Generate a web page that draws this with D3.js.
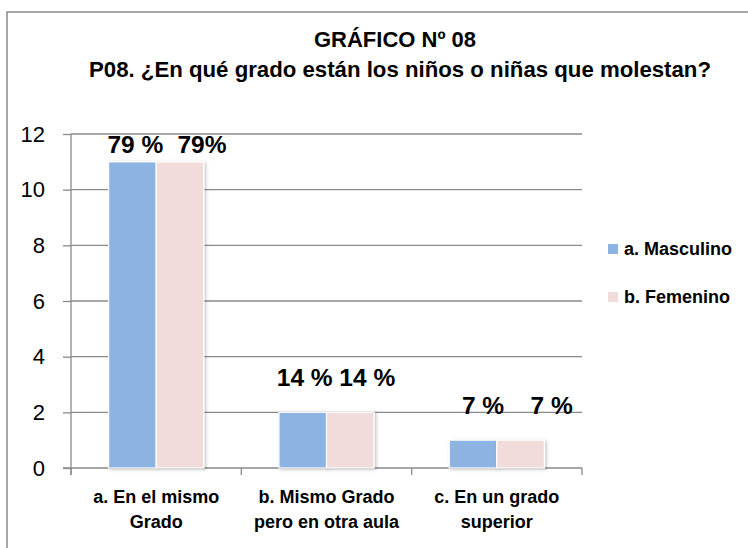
<!DOCTYPE html>
<html>
<head>
<meta charset="utf-8">
<script src="https://cdn.jsdelivr.net/npm/d3@7"></script>
<style>
  body { margin: 0; background: #fff; }
  svg { display: block; font-family: "Liberation Sans", Arial, sans-serif; }
</style>
</head>
<body>
<script>
const categories = [["a. En el mismo", "Grado"], ["b. Mismo Grado", "pero en otra aula"], ["c. En un grado", "superior"]];
const series = ["a. Masculino", "b. Femenino"];
const masculino = [11, 2, 1];
const femenino = [11, 2, 1];
const masculinoLabels = ["79 %", "14 %", "7 %"];
const femeninoLabels = ["79%", "14 %", "7 %"];
const yTicks = [0, 2, 4, 6, 8, 10, 12];

const colors = ["#8DB3E2", "#F2DCDB"];
// hand placed data labels in the original, dx / dy from bar top centre
const labelNudge = [
  [[3, -9], [22, -9]],
  [[2, -26], [17, -26]],
  [[10, -26], [31, -26]]
];

const W = 748, H = 548;
const svg = d3.select("body").append("svg").attr("width", W).attr("height", H);

const defs = svg.append("defs");
const f = defs.append("filter").attr("id", "shadow").attr("x", "-20%").attr("y", "-20%").attr("width", "140%").attr("height", "140%");
f.append("feDropShadow").attr("dx", 1.5).attr("dy", 1).attr("stdDeviation", 1.5)
  .attr("flood-color", "#000").attr("flood-opacity", 0.25);

// outer frame (right and bottom run off the picture)
svg.append("rect").attr("x", 7).attr("y", 12).attr("width", 800).attr("height", 600)
  .attr("fill", "none").attr("stroke", "#8a8a8a").attr("stroke-width", 1.5);

// title
svg.append("text").attr("x", 395).attr("y", 47).attr("text-anchor", "middle")
  .attr("font-size", 22).attr("font-weight", "bold").text("GRÁFICO Nº 08");
svg.append("text").attr("x", 400).attr("y", 77).attr("text-anchor", "middle")
  .attr("font-size", 22).attr("font-weight", "bold")
  .attr("textLength", 622).attr("lengthAdjust", "spacingAndGlyphs")
  .text("P08. ¿En qué grado están los niños o niñas que molestan?");

const x0 = d3.scaleBand().domain(d3.range(categories.length)).range([71, 582]);
const x1 = d3.scaleBand().domain(d3.range(series.length)).range([0, x0.bandwidth()]).paddingOuter(0.79);
const y = d3.scaleLinear().domain([0, 12]).range([468, 134]);

// gridlines
svg.append("g").selectAll("line").data(yTicks.filter(d => d > 0)).join("line")
  .attr("x1", 71).attr("x2", 582).attr("y1", d => y(d)).attr("y2", d => y(d))
  .attr("stroke", "#8a8a8a").attr("stroke-width", 1.3);

// y axis
const yAxis = svg.append("g").attr("transform", "translate(71,0)")
  .call(d3.axisLeft(y).tickValues(yTicks).tickSize(8).tickPadding(18));
yAxis.select(".domain").attr("d", `M0,${y(12)}V${y(0) + 7}`);
yAxis.selectAll("path,line").attr("stroke", "#8a8a8a").attr("stroke-width", 1.3);
yAxis.selectAll("text").attr("font-size", 22).attr("font-family", "Liberation Sans, Arial, sans-serif").attr("fill", "#000");

// x axis
const xAxis = svg.append("g").attr("transform", `translate(0,${y(0)})`);
xAxis.append("line").attr("x1", 63).attr("x2", 582).attr("stroke", "#8a8a8a").attr("stroke-width", 1.3);
xAxis.selectAll(".tk").data(d3.range(categories.length + 1)).join("line").attr("class", "tk")
  .attr("x1", d => d < categories.length ? x0(d) : x0(d - 1) + x0.bandwidth())
  .attr("x2", d => d < categories.length ? x0(d) : x0(d - 1) + x0.bandwidth())
  .attr("y1", 0).attr("y2", 7).attr("stroke", "#8a8a8a").attr("stroke-width", 1.3);

// category labels
const cat = svg.append("g").selectAll("text").data(categories).join("text")
  .attr("x", (d, i) => x0(i) + x0.bandwidth() / 2).attr("y", 503)
  .attr("text-anchor", "middle").attr("font-size", 18).attr("font-weight", "bold");
cat.selectAll("tspan").data(d => d).join("tspan")
  .attr("x", function() { return this.parentNode.getAttribute("x"); })
  .attr("dy", (d, i) => i === 0 ? 0 : 25).text(d => d);

// bars
const values = [masculino, femenino];
const labels = [masculinoLabels, femeninoLabels];
const groups = svg.append("g").selectAll("g").data(categories).join("g")
  .attr("transform", (d, i) => `translate(${x0(i)},0)`);

groups.selectAll("rect").data((d, i) => series.map((s, j) => ({ j, v: values[j][i] }))).join("rect")
  .attr("x", d => x1(d.j)).attr("width", x1.bandwidth())
  .attr("y", d => y(d.v)).attr("height", d => y(0) - y(d.v))
  .attr("fill", d => colors[d.j]).attr("stroke", "#fff").attr("stroke-width", 1.2)
  .attr("filter", "url(#shadow)");

groups.selectAll("text").data((d, i) => series.map((s, j) => ({ i, j, v: values[j][i], t: labels[j][i] }))).join("text")
  .attr("x", d => x1(d.j) + x1.bandwidth() / 2 + labelNudge[d.i][d.j][0])
  .attr("y", d => y(d.v) + labelNudge[d.i][d.j][1])
  .attr("text-anchor", "middle").attr("font-size", 24.5).attr("font-weight", "bold")
  .text(d => d.t);

// legend
const leg = svg.append("g").selectAll("g").data(series).join("g")
  .attr("transform", (d, i) => `translate(608,${244 + i * 48})`);
leg.append("rect").attr("width", 10).attr("height", 10).attr("fill", (d, i) => colors[i]);
leg.append("text").attr("x", 16).attr("y", 11).attr("font-size", 18).attr("font-weight", "bold").text(d => d);
</script>
</body>
</html>
